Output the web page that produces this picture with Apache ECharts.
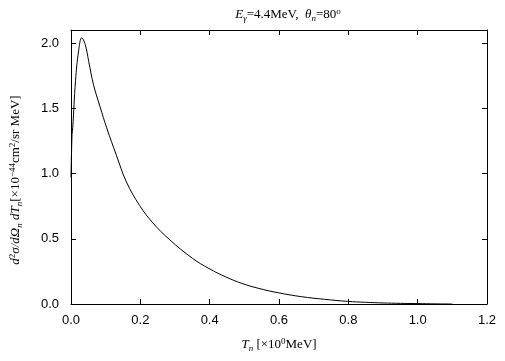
<!DOCTYPE html>
<html>
<head>
<meta charset="utf-8">
<title>neutron spectrum</title>
<script src="https://cdn.jsdelivr.net/npm/echarts@6/dist/echarts.min.js"></script>
</head>
<body style="margin:0">
<div id="main" style="width:505px;height:361px"></div>
<script type="text/javascript">
// 横轴 T_n (MeV)
var tn = [0, 0.003, 0.005, 0.013, 0.022, 0.031, 0.041, 0.051, 0.065, 0.084, 0.103, 0.131, 0.16, 0.198, 0.236, 0.284,
  0.351, 0.398, 0.446, 0.493, 0.541, 0.598, 0.665, 0.731, 0.798, 0.85, 0.9, 0.95, 1.0, 1.05, 1.1];
// 截面 d2sigma/dOmega dT
var xsec = [0.97, 1.3, 1.35, 1.71, 1.94, 2.04, 1.99, 1.86, 1.68, 1.51, 1.35, 1.14, 0.935, 0.755, 0.622, 0.494,
  0.349, 0.272, 0.208, 0.158, 0.12, 0.086, 0.056, 0.036, 0.02, 0.013, 0.008, 0.005, 0.003, 0.001, 0.0];
var xTicks = [0, 0.2, 0.4, 0.6, 0.8, 1.0, 1.2];
var yTicks = [0, 0.5, 1.0, 1.5, 2.0];

var myChart = echarts.init(document.getElementById('main'));

var points = tn.map(function(v, i) { return [v, xsec[i]]; });

var serif = 'Liberation Serif';
var rich = {
  n: { fontFamily: serif, fontSize: 13, lineHeight: 16, fontWeight: 'normal', color: '#000' },
  it: { fontFamily: serif, fontSize: 13, lineHeight: 16, fontWeight: 'normal', fontStyle: 'italic', color: '#000' },
  sub: { fontFamily: serif, fontSize: 9, lineHeight: 9, fontWeight: 'normal', fontStyle: 'italic', verticalAlign: 'bottom', color: '#000' },
  sup: { fontFamily: serif, fontSize: 9, lineHeight: 9, fontWeight: 'normal', verticalAlign: 'top', color: '#000' }
};

function side(pos, isX) {
  var ax = {
    type: 'value', position: pos, min: 0,
    max: isX ? 1.2 : 2.1,
    axisLine: { show: true, onZero: false, lineStyle: { color: '#000', width: 1 } },
    axisTick: { show: true, inside: true, length: 5, customValues: isX ? xTicks : yTicks, lineStyle: { color: '#000' } },
    axisLabel: { show: false },
    splitLine: { show: false }
  };
  return ax;
}

var option = {
  backgroundColor: '#fff',
  animation: false,
  title: {
    text: '{it|E}{sub|γ}{n|=4.4MeV,  }{it|θ}{sub|n}{n|=80}{sup|o}',
    left: 283, top: 2, textAlign: 'center',
    textStyle: { fontWeight: 'normal', rich: rich }
  },
  grid: { left: 67, right: 18, top: 30, bottom: 57 },
  xAxis: [
    Object.assign(side('bottom', true), {
      axisLabel: {
        show: true, customValues: xTicks, margin: 10,
        fontFamily: 'Liberation Sans', fontSize: 13, color: '#000',
        formatter: function(v) { return v.toFixed(1); }
      },
      name: '{it|T}{sub|n}{n| [×10}{sup|0}{n|MeV]}',
      nameLocation: 'middle', nameGap: 33,
      nameTextStyle: { rich: rich }
    }),
    side('top', true)
  ],
  yAxis: [
    Object.assign(side('left', false), {
      axisLabel: {
        show: true, customValues: yTicks, margin: 12,
        fontFamily: 'Liberation Sans', fontSize: 13, color: '#000',
        formatter: function(v) { return v.toFixed(1); }
      },
      name: '{it|d}{sup|2}{it|σ/dΩ}{sub|n}{it| dT}{sub|n}{n|[×10}{sup|−44}{n|cm}{sup|2}{n|/sr MeV]}',
      nameLocation: 'middle', nameGap: 47, nameRotate: 90,
      nameTextStyle: { rich: rich, padding: [0, 26, 0, 0] }
    }),
    side('right', false)
  ],
  series: [{
    type: 'line',
    data: points,
    showSymbol: false,
    smooth: 0.4,
    lineStyle: { color: '#000', width: 1 },
    itemStyle: { color: '#000' }
  }]
};

myChart.setOption(option);
</script>
</body>
</html>
